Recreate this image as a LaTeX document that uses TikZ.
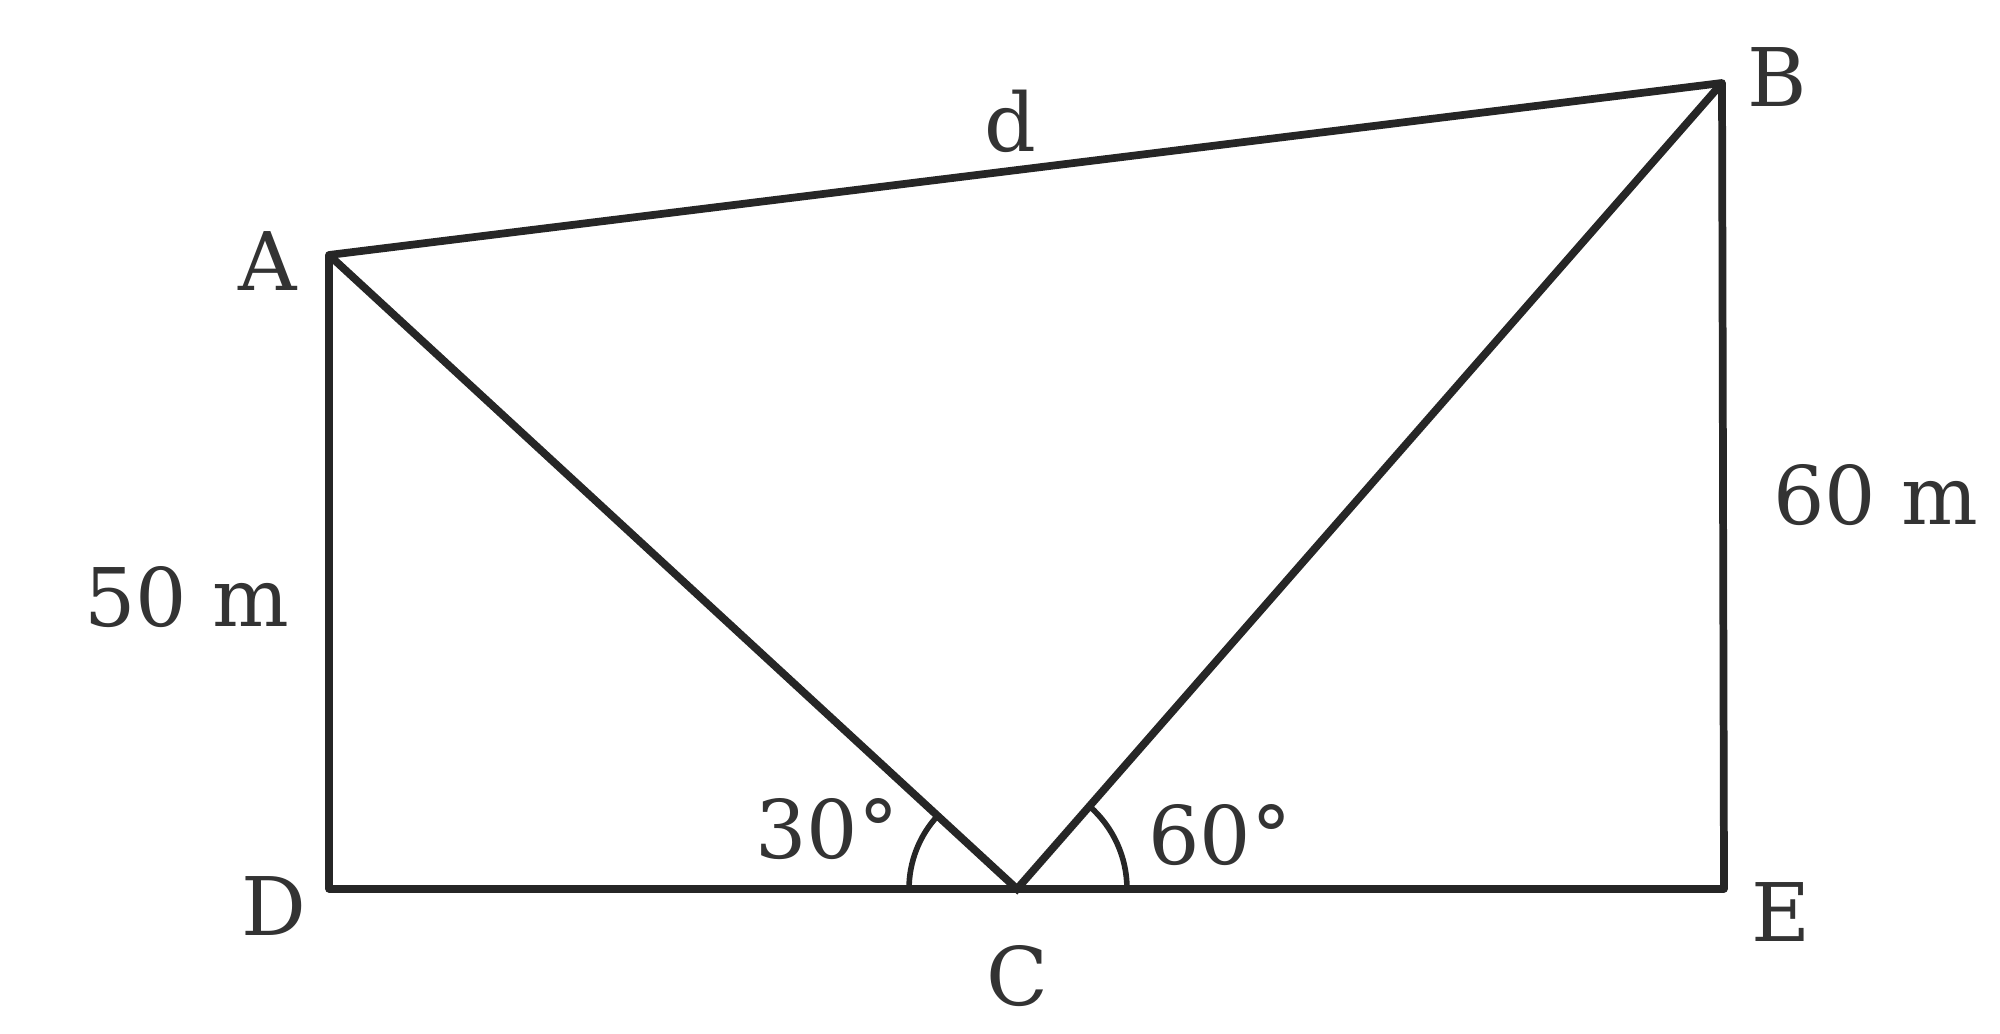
\documentclass[tikz,border=0pt]{standalone}
\usepackage{fontspec}
\setmainfont{DejaVu Serif}
\usetikzlibrary{calc}
\begin{document}
\begin{tikzpicture}[x=0.01cm,y=-0.01cm,
  edge/.style={line width=2.2pt,draw=black!85},
  arcline/.style={line width=1.6pt,draw=black!85},
  lbl/.style={font=\fontsize{23}{27}\selectfont,text=black!80,inner sep=0pt}]
\useasboundingbox[fill=white] (0,0) rectangle (2000,1034);
\coordinate (A) at (329,255);
\coordinate (B) at (1722,83);
\coordinate (C) at (1017,889);
\coordinate (D) at (329,889);
\coordinate (E) at (1724,889);
\draw[edge,line join=round] (D) -- (A) -- (B) -- (E) -- cycle;
\draw[edge] (A) -- (C) -- (B);
% angle arcs
\draw[arcline] ($(C)+(-108,0)$) arc[start angle=180,end angle=222.7,radius=108];
\draw[arcline] ($(C)+(110,0)$) arc[start angle=0,end angle=-48.8,radius=110];
\node[lbl] (la) at (268,261) {A};
\node[lbl] (lb) at (1777,77) {B};
\node[lbl] (lc) at (1017,976) {C};
\node[lbl] (ld) at (274,906) {D};
\node[lbl] (le) at (1781,912) {E};
\node[lbl] (ldd) at (1010,121) {d};
\node[lbl] (l50) at (187,597) {50 m};
\node[lbl] (l60) at (1876,495) {60 m};
\node[lbl] (l30d) at (827,829) {30°};
\node[lbl] (l60d) at (1220,835) {60°};
\end{tikzpicture}
\end{document}
